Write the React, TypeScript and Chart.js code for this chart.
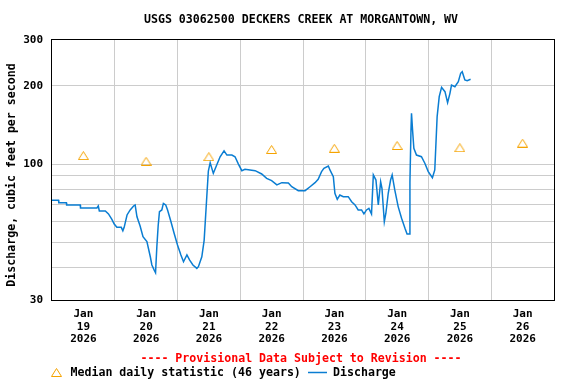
import React, { useEffect, useRef } from "react";
import { Chart, registerables } from "chart.js";

Chart.register(...registerables);

const TITLE = "USGS 03062500 DECKERS CREEK AT MORGANTOWN, WV";
const Y_TITLE = "Discharge, cubic feet per second";
const PROVISIONAL = "---- Provisional Data Subject to Revision ----";
const LEGEND_MEDIAN = "Median daily statistic (46 years)";
const LEGEND_DISCHARGE = "Discharge";

const MONTH = "Jan";
const YEAR = "2026";
const dayLabels = ["19", "20", "21", "22", "23", "24", "25", "26"];

// hours since Jan 19 2026 00:00
const dischargeHours = [
  0, 2.5, 2.6, 5.5, 5.6, 10.8, 10.9, 17.2, 17.7, 18.1, 20.4, 21.6, 22.9, 23.8, 24.8, 26.5, 27.1, 27.6,
  28.7, 29.9, 31.2, 31.8, 32.5, 33.7, 34.8, 36.3, 37.6, 38.2, 39.1, 39.6, 40.1, 40.6, 41.1, 42.0, 42.6,
  43.5, 44.2, 45.5, 46.7, 48.0, 49.3, 50.3, 51.6, 52.6, 53.9, 55.4, 56.0, 57.3, 58.2, 59.2, 59.8, 60.5,
  61.7, 63.0, 64.3, 65.8, 66.9, 68.8, 70.0, 71.3, 72.6, 73.8, 77.7, 80.2, 82.1, 84.0, 86.0, 87.9, 90.4,
  91.7, 94.2, 96.8, 98.7, 100.6, 101.8, 103.1, 104.0, 105.7, 106.3, 107.6, 108.2, 109.1, 110.1, 111.4,
  113.3, 114.6, 115.9, 117.1, 118.4, 119.3, 120.3, 121.2, 122.2, 122.9, 123.9, 124.8, 125.7, 126.2,
  127.1, 127.7, 128.6, 129.5, 130.1, 131.1, 132.4, 133.7, 135.0, 135.8, 136.6, 136.9, 137.3, 137.5,
  137.9, 138.4, 139.4, 141.3, 142.6, 143.9, 145.5, 146.4, 147.3, 148.1, 149.0, 150.3, 151.3, 152.2,
  152.8, 154.1, 155.4, 156.3, 156.9, 157.9, 158.8, 160.1,
];
const dischargeCfs = [
  72.6, 72.6, 71.0, 71.0, 69.6, 69.6, 67.8, 67.8, 69.0, 66.0, 66.0, 64.3, 61.3, 58.8, 57.1, 57.1, 55.4, 57.1,
  63.7, 66.6, 69.0, 69.6, 62.7, 57.8, 52.6, 50.3, 44.0, 40.9, 39.1, 38.2, 48.1, 57.8, 65.6, 66.6, 70.6,
  69.6, 66.6, 60.0, 54.2, 48.8, 44.7, 42.1, 44.7, 42.8, 40.9, 39.7, 40.3, 44.0, 51.0, 74.9, 94.0, 101.2,
  92.1, 99.2, 106.7, 112.5, 108.3, 108.3, 106.7, 100.0, 94.3, 95.5, 94.3, 91.6, 88.1, 86.3, 83.1, 84.8, 84.5,
  81.8, 79.0, 79.0, 81.8, 84.8, 87.4, 93.5, 96.3, 98.3, 94.9, 89.4, 77.2, 73.2, 76.0, 74.9,
  74.9, 71.6, 69.6, 66.6, 66.6, 64.3, 66.6, 67.5, 64.3, 90.8, 86.8, 69.6, 85.5, 80.7,
  60.0, 64.7, 77.2, 86.8, 90.8, 79.5, 68.6, 61.9, 56.6, 53.8, 53.8, 85.5, 135.2, 156.7,
  135.2, 115.0, 108.3, 106.7, 100.7, 93.5, 88.6, 94.9, 152.1, 181.6, 197.3, 189.8, 172.2, 187.1,
  201.4, 198.4, 207.4, 223.4, 226.6, 210.5, 209.2, 211.8,
];

const medianHours = [12, 36, 60, 84, 108, 132, 156, 180];
const medianCfs = [107.8, 102.5, 106.7, 113.8, 115.0, 117.9, 115.5, 120.3];

const yTicks = [30, 40, 50, 60, 70, 80, 90, 100, 200, 300];
const yLabeledTicks = [30, 100, 200, 300];

const FONT = "'DejaVu Sans Mono', monospace";
const BLUE = "#0a7dd2";
const ORANGE = "#f5a300";
const GRID = "#cccccc";

function makeTriangle(): HTMLCanvasElement {
  const c = document.createElement("canvas");
  c.width = 11;
  c.height = 9;
  const g = c.getContext("2d")!;
  g.strokeStyle = ORANGE;
  g.lineWidth = 1;
  g.beginPath();
  g.moveTo(5.5, 0.5);
  g.lineTo(10.5, 8.5);
  g.lineTo(0.5, 8.5);
  g.closePath();
  g.stroke();
  return c;
}

export default function App() {
  const ref = useRef<HTMLCanvasElement | null>(null);

  useEffect(() => {
    if (!ref.current) return;
    const tri = makeTriangle();

    const decor = {
      id: "decor",
      afterDraw(chart: any) {
        const { ctx, chartArea } = chart;
        const { left, right, top, bottom } = chartArea;
        ctx.save();
        // frame
        ctx.strokeStyle = "#000";
        ctx.lineWidth = 1;
        ctx.strokeRect(Math.floor(left) - 0.5, Math.floor(top) - 0.5, Math.round(right - left) + 1, Math.round(bottom - top) + 1);
        // title
        ctx.fillStyle = "#000";
        ctx.font = `bold 11.6px ${FONT}`;
        ctx.textAlign = "center";
        ctx.textBaseline = "middle";
        ctx.fillText(TITLE, 301, 20);
        // y title
        ctx.save();
        ctx.translate(12, 175);
        ctx.rotate(-Math.PI / 2);
        ctx.fillText(Y_TITLE, 0, 0);
        ctx.restore();
        // provisional
        ctx.fillStyle = "#ff0000";
        ctx.fillText(PROVISIONAL, 301, 359);
        // legend
        ctx.drawImage(tri, 51, 368);
        ctx.fillStyle = "#000";
        ctx.textAlign = "left";
        ctx.fillText(LEGEND_MEDIAN, 70.5, 373);
        ctx.strokeStyle = BLUE;
        ctx.lineWidth = 1.5;
        ctx.beginPath();
        ctx.moveTo(308, 372.5);
        ctx.lineTo(327, 372.5);
        ctx.stroke();
        ctx.fillText(LEGEND_DISCHARGE, 333, 373);
        ctx.restore();
      },
    };

    const chart = new Chart(ref.current, {
      type: "line",
      data: {
        datasets: [
          {
            label: "Discharge",
            data: dischargeHours.map((h, i) => ({ x: h, y: dischargeCfs[i] })),
            borderColor: BLUE,
            borderWidth: 1.5,
            pointRadius: 0,
            tension: 0,
            fill: false,
          },
          {
            label: "Median daily statistic (46 years)",
            data: medianHours.map((h, i) => ({ x: h, y: medianCfs[i] })),
            showLine: false,
            pointStyle: tri as any,
            pointRadius: 5,
            borderColor: ORANGE,
            backgroundColor: "transparent",
          },
        ],
      },
      options: {
        animation: false,
        responsive: false,
        devicePixelRatio: 1,
        layout: { padding: { left: 0, top: 40, right: 22, bottom: 0 } },
        plugins: {
          legend: { display: false },
          title: { display: false },
          tooltip: { enabled: false },
        },
        scales: {
          x: {
            type: "linear",
            min: 0,
            max: 192,
            afterBuildTicks(scale: any) {
              const t = [];
              for (let h = 0; h <= 192; h += 12) t.push({ value: h });
              scale.ticks = t;
            },
            afterFit(scale: any) {
              scale.height = 84;
            },
            border: { display: false },
            grid: {
              drawTicks: false,
              tickLength: 0,
              color: (ctx: any) => {
                const v = ctx.tick ? ctx.tick.value : -1;
                return v % 24 === 0 && v > 0 && v < 192 ? GRID : "rgba(0,0,0,0)";
              },
              lineWidth: 1,
            },
            ticks: {
              autoSkip: false,
              maxRotation: 0,
              padding: 8,
              color: "#000",
              font: { family: FONT, size: 11, weight: "bold", lineHeight: 1.14 },
              callback: (value: any) => {
                const v = Number(value);
                if (v % 24 === 12) {
                  const d = dayLabels[Math.floor(v / 24)];
                  return d ? [MONTH, d, YEAR] : "";
                }
                return "";
              },
            },
          },
          y: {
            type: "logarithmic",
            min: 30,
            max: 300,
            afterBuildTicks(scale: any) {
              scale.ticks = yTicks.map((v) => ({ value: v }));
            },
            afterFit(scale: any) {
              scale.width = 52;
            },
            border: { display: false },
            grid: {
              drawTicks: false,
              tickLength: 0,
              color: (ctx: any) => {
                const v = ctx.tick ? ctx.tick.value : -1;
                return v === 30 || v === 300 ? "rgba(0,0,0,0)" : GRID;
              },
              lineWidth: 1,
            },
            ticks: {
              autoSkip: false,
              padding: 9,
              color: "#000",
              font: { family: FONT, size: 11, weight: "bold" },
              callback: (value: any) => {
                const v = Number(value);
                return yLabeledTicks.includes(v) ? String(v) : "";
              },
            },
          },
        },
      },
      plugins: [decor],
    });

    return () => chart.destroy();
  }, []);

  return (
    <div style={{ position: "absolute", left: 0, top: 0, width: 576, height: 384, background: "#fff" }}>
      <canvas ref={ref} width={576} height={384} style={{ display: "block" }} />
    </div>
  );
}
